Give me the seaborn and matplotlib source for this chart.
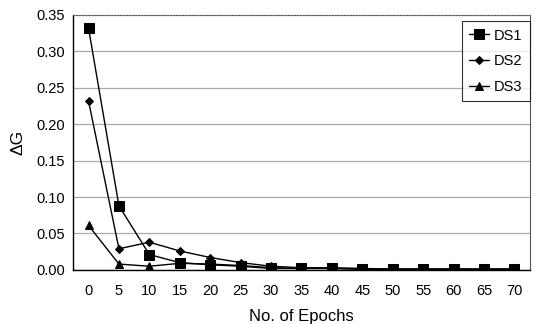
import numpy as np
import pandas as pd
import matplotlib
matplotlib.use("Agg")
import matplotlib.pyplot as plt
import seaborn as sns

epochs = [0, 5, 10, 15, 20, 25, 30, 35, 40, 45, 50, 55, 60, 65, 70]
ds1 = [0.332, 0.088, 0.021, 0.010, 0.007, 0.005, 0.002, 0.002, 0.002, 0.001, 0.001, 0.001, 0.001, 0.001, 0.001]
ds2 = [0.232, 0.029, 0.038, 0.026, 0.017, 0.010, 0.005, 0.003, 0.003, 0.002, 0.001, 0.001, 0.001, 0.001, 0.001]
ds3 = [0.061, 0.008, 0.005, 0.009, 0.008, 0.006, 0.003, 0.002, 0.002, 0.001, 0.001, 0.001, 0.001, 0.001, 0.001]
series_names = ["DS1", "DS2", "DS3"]
yticks = [0.00, 0.05, 0.10, 0.15, 0.20, 0.25, 0.30, 0.35]

df = pd.DataFrame({
    "epoch": epochs * 3,
    "dG": ds1 + ds2 + ds3,
    "series": [series_names[0]] * len(epochs) + [series_names[1]] * len(epochs) + [series_names[2]] * len(epochs),
})

sns.set_style("white")
plt.rcParams["font.family"] = ["Liberation Sans", "DejaVu Sans"]
plt.rcParams["text.color"] = "black"
plt.rcParams["axes.labelcolor"] = "black"
plt.rcParams["xtick.color"] = "black"
plt.rcParams["ytick.color"] = "black"

fig = plt.figure(figsize=(5.35, 3.24), dpi=100)
ax = fig.add_axes([0.137, 0.167, 0.853, 0.787])

markers = {"DS1": "s", "DS2": "D", "DS3": "^"}
sizes = {"DS1": 6.5, "DS2": 4.5, "DS3": 6}
for name in series_names:
    sub = df[df["series"] == name]
    sns.lineplot(data=sub, x="epoch", y="dG", ax=ax, color="black", lw=1.0,
                 marker=markers[name], markersize=sizes[name], markeredgecolor="black",
                 label=name)

ax.set_xlim(-2.5, 72.5)
ax.set_ylim(0, 0.35)
ax.set_xticks(epochs)
ax.set_xticklabels([str(e) for e in epochs], fontsize=10.5)
ax.set_yticks(yticks)
ax.set_yticklabels([f"{v:.2f}" for v in yticks], fontsize=10.5)
ax.yaxis.grid(True, color="#aaaaaa", lw=0.9)
ax.set_axisbelow(True)
ax.set_xlabel("No. of Epochs", fontsize=12, labelpad=8)
ax.set_ylabel("ΔG", fontsize=12.5, labelpad=8)
ax.tick_params(axis="x", length=0, pad=10)
ax.tick_params(axis="y", length=0, pad=6)

for s in ["left", "bottom"]:
    ax.spines[s].set_color("black")
    ax.spines[s].set_linewidth(1.0)
ax.spines["top"].set_color("#555555")
ax.spines["top"].set_linestyle(":")
ax.spines["right"].set_color("#555555")
ax.spines["right"].set_linewidth(0.8)

leg = ax.legend(loc="upper right", bbox_to_anchor=(1.0, 0.975), borderaxespad=0,
                fontsize=10.5, frameon=True, fancybox=False, edgecolor="black",
                handlelength=1.4, labelspacing=0.8, borderpad=0.5, handletextpad=0.3)
leg.get_frame().set_linewidth(0.8)

fig.savefig("out.png", dpi=100)
